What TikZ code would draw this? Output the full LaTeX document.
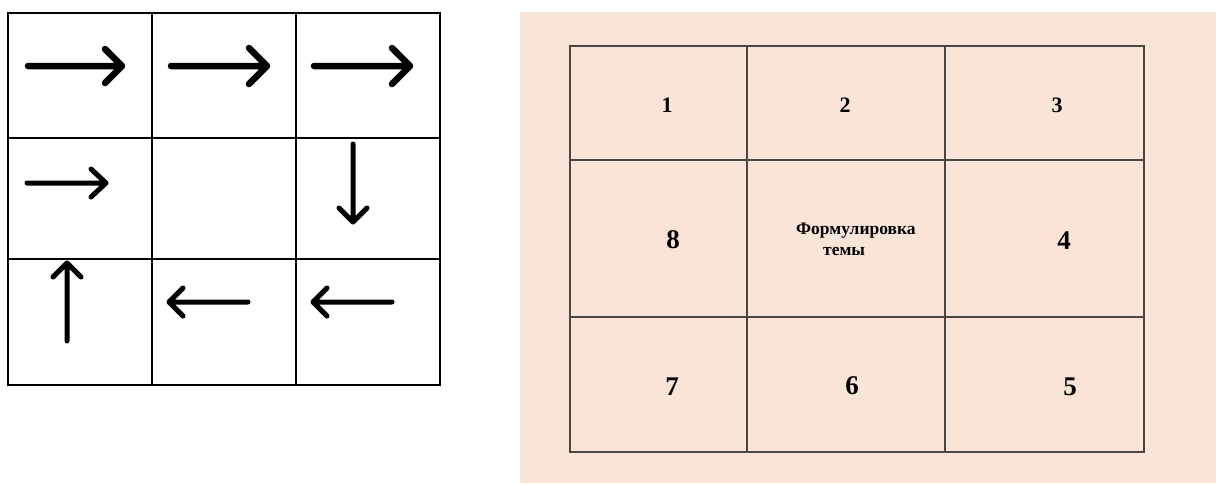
\documentclass[tikz,border=0pt]{standalone}
\usepackage{fontspec}
\setmainfont{Liberation Serif}
\definecolor{peach}{RGB}{249,228,215}
\definecolor{gridgray}{RGB}{75,70,68}
\begin{document}
\begin{tikzpicture}[x=1pt,y=-1pt,
  leftgrid/.style={line width=2.8pt,black},
  rightgrid/.style={line width=1.1pt,gridgray},
  bigarrow/.style={line width=6.5pt,line cap=round,line join=round},
  smallarrow/.style={line width=5pt,line cap=round,line join=round},
  small/.style={font=\bfseries\fontsize{22}{24}\selectfont,inner sep=0pt},
  large/.style={font=\bfseries\fontsize{27}{29}\selectfont,inner sep=0pt},
  topic/.style={font=\bfseries\fontsize{17.5}{19}\selectfont,inner sep=0pt}]
\useasboundingbox (0,0) rectangle (1216,483);
\fill[white] (0,0) rectangle (1216,483);
% ---------- left grid ----------
\draw[leftgrid] (8,13) rectangle (440,385);
\draw[leftgrid] (152,13) -- (152,385);
\draw[leftgrid] (296,13) -- (296,385);
\draw[leftgrid] (8,138) -- (440,138);
\draw[leftgrid] (8,259) -- (440,259);
% row 1
\draw[bigarrow] (28,66) -- (122,66) (105,49) -- (122,66) -- (105,83);
\draw[bigarrow] (171,66) -- (267,66) (249,48) -- (267,66) -- (249,84);
\draw[bigarrow] (314,66) -- (410,66) (392,48) -- (410,66) -- (392,84);
% row 2
\draw[smallarrow] (27,183) -- (106,183) (91,169) -- (106,183) -- (91,197);
\draw[smallarrow] (353,144) -- (353,222) (339,208) -- (353,222) -- (367,208);
% row 3
\draw[smallarrow] (67,341) -- (67,263) (53,277) -- (67,263) -- (81,277);
\draw[smallarrow] (248,302) -- (169,302) (183,288) -- (169,302) -- (183,316);
\draw[smallarrow] (392,302) -- (313,302) (327,288) -- (313,302) -- (327,316);
% ---------- right panel ----------
\fill[peach] (520,12) rectangle (1216,483);
\draw[rightgrid] (570,46) rectangle (1144,452);
\draw[rightgrid] (747,46) -- (747,452);
\draw[rightgrid] (945,46) -- (945,452);
\draw[rightgrid] (570,160) -- (1144,160);
\draw[rightgrid] (570,317) -- (1144,317);
\node[small] (n1) at (667,105) {1};
\node[small] (n2) at (845,105) {2};
\node[small] (n3) at (1057,105) {3};
\node[large] (n8) at (673,240) {8};
\node[large] (n4) at (1064,241) {4};
\node[large] (n7) at (672,387) {7};
\node[large] (n6) at (852,386) {6};
\node[large] (n5) at (1070,387) {5};
\node[topic,anchor=west] (t1) at (796,231) {Формулировка};
\node[topic,anchor=west] (t2) at (823,251) {темы};
\end{tikzpicture}
\end{document}
